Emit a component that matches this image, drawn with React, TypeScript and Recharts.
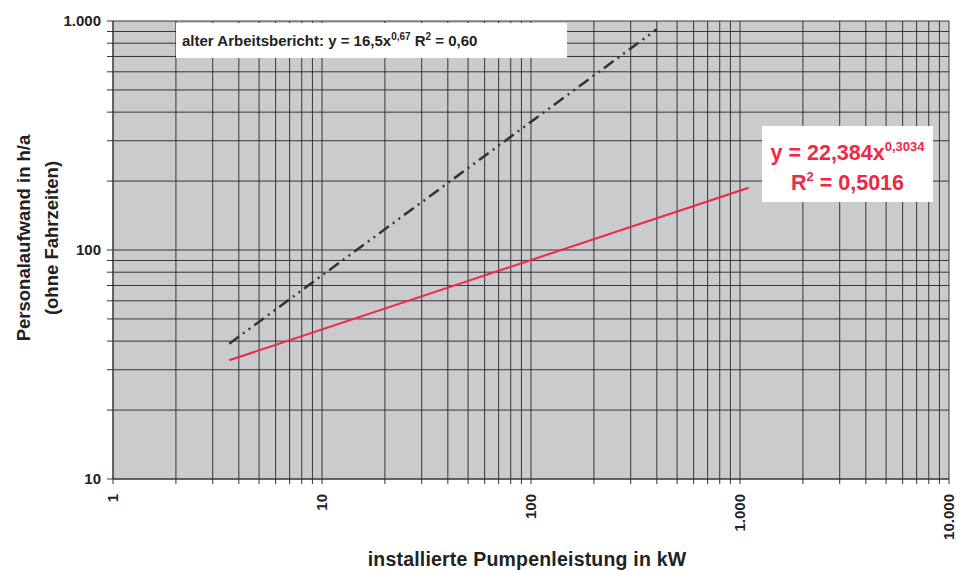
import React from "react";
import { ComposedChart, Line, XAxis, YAxis, CartesianGrid } from "recharts";

// Tick values (log grid, incl. minor lines)
const xTicks = [
  1, 2, 3, 4, 5, 6, 7, 8, 9,
  10, 20, 30, 40, 50, 60, 70, 80, 90,
  100, 200, 300, 400, 500, 600, 700, 800, 900,
  1000, 2000, 3000, 4000, 5000, 6000, 7000, 8000, 9000,
  10000,
];
const xMajor = [1, 10, 100, 1000, 10000];
const xMajorLabels = ["1", "10", "100", "1.000", "10.000"];

const yTicks = [
  10, 20, 30, 40, 50, 60, 70, 80, 90,
  100, 200, 300, 400, 500, 600, 700, 800, 900,
  1000,
];
const yMajor = [10, 100, 1000];
const yMajorLabels = ["10", "100", "1.000"];

// Trend lines (endpoints)
const oldReport = [
  { x: 3.6, y: 39 },
  { x: 400, y: 920 },
];
const newTrend = [
  { x: 3.6, y: 33 },
  { x: 1100, y: 187 },
];

const FONT = "'Liberation Sans', Arial, sans-serif";

const XTick = (props: any) => {
  const { x, y, payload } = props;
  const i = xMajor.indexOf(payload.value);
  if (i < 0) return null;
  return (
    <g transform={`translate(${x},${y + 8}) rotate(-90)`}>
      <text
        x={0}
        y={0}
        dy="0.36em"
        textAnchor="end"
        fontFamily={FONT}
        fontWeight="bold"
        fontSize={15}
        fill="#222"
      >
        {xMajorLabels[i]}
      </text>
    </g>
  );
};

const YTick = (props: any) => {
  const { x, y, payload } = props;
  const i = yMajor.indexOf(payload.value);
  if (i < 0) return null;
  return (
    <text
      x={x}
      y={y}
      dy="0.36em"
      textAnchor="end"
      fontFamily={FONT}
      fontWeight="bold"
      fontSize={15}
      fill="#222"
    >
      {yMajorLabels[i]}
    </text>
  );
};

const supSmall = { fontSize: 10, verticalAlign: "6px", lineHeight: 0 } as const;
const supRed = { fontSize: 13, verticalAlign: "9px", lineHeight: 0 } as const;

export default function App() {
  return (
    <div
      style={{
        position: "absolute",
        left: 0,
        top: 0,
        width: 956,
        height: 570,
        background: "#fff",
        fontFamily: FONT,
      }}
    >
      <ComposedChart
        width={956}
        height={570}
        margin={{ top: 21, right: 7, left: 0, bottom: 0 }}
      >
        <CartesianGrid
          fill="#cacbcc"
          stroke="#262626"
          strokeWidth={1}
          strokeOpacity={0.9}
        />
        <XAxis
          type="number"
          dataKey="x"
          scale="log"
          domain={[1, 10000]}
          ticks={xTicks}
          interval={0}
          allowDataOverflow
          height={91}
          tickSize={5}
          tickMargin={2}
          tick={<XTick />}
          stroke="#333"
        />
        <YAxis
          type="number"
          dataKey="y"
          scale="log"
          domain={[10, 1000]}
          ticks={yTicks}
          interval={0}
          allowDataOverflow
          width={113}
          tickSize={6}
          tickMargin={6}
          tick={<YTick />}
          stroke="#333"
        />
        <Line
          data={oldReport}
          dataKey="y"
          type="linear"
          stroke="#333"
          strokeWidth={2.5}
          strokeDasharray="12 5 2 5 2 5"
          dot={false}
          isAnimationActive={false}
        />
        <Line
          data={newTrend}
          dataKey="y"
          type="linear"
          stroke="#ee2846"
          strokeWidth={2}
          dot={false}
          isAnimationActive={false}
        />
      </ComposedChart>

      {/* top annotation box */}
      <div
        style={{
          position: "absolute",
          left: 176,
          top: 23,
          width: 391,
          height: 35,
          background: "#fff",
          fontWeight: "bold",
          fontSize: 15,
          color: "#222",
          lineHeight: "35px",
          paddingLeft: 6,
          boxSizing: "border-box",
          whiteSpace: "nowrap",
        }}
      >
        alter Arbeitsbericht: y = 16,5x<sup style={supSmall}>0,67</sup> R
        <sup style={supSmall}>2</sup> = 0,60
      </div>

      {/* red annotation box */}
      <div
        style={{
          position: "absolute",
          left: 762,
          top: 126,
          width: 171,
          height: 76,
          background: "#fff",
          fontWeight: "bold",
          fontSize: 21.5,
          color: "#ee2846",
          textAlign: "center",
          whiteSpace: "nowrap",
        }}
      >
        <div style={{ position: "absolute", left: 0, right: 0, top: 14, lineHeight: "26px" }}>
          y = 22,384x<sup style={supRed}>0,3034</sup>
        </div>
        <div style={{ position: "absolute", left: 0, right: 0, top: 44, lineHeight: "26px" }}>
          R<sup style={supRed}>2</sup> = 0,5016
        </div>
      </div>

      {/* x axis title */}
      <div
        style={{
          position: "absolute",
          left: 327,
          width: 400,
          top: 547,
          lineHeight: "24px",
          textAlign: "center",
          fontWeight: "bold",
          fontSize: 19.5,
          letterSpacing: 0.2,
          color: "#222",
          whiteSpace: "nowrap",
        }}
      >
        installierte Pumpenleistung in kW
      </div>

      {/* y axis title */}
      <div
        style={{
          position: "absolute",
          left: 38 - 150,
          top: 238 - 28,
          width: 300,
          height: 56,
          transform: "rotate(-90deg)",
          textAlign: "center",
          fontWeight: "bold",
          fontSize: 18.5,
          lineHeight: "28px",
          color: "#222",
          whiteSpace: "nowrap",
        }}
      >
        Personalaufwand in h/a
        <br />
        (ohne Fahrzeiten)
      </div>
    </div>
  );
}
